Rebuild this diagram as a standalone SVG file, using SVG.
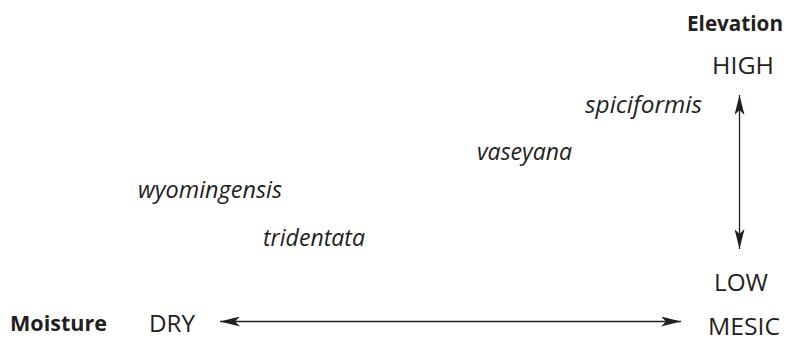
<svg xmlns="http://www.w3.org/2000/svg" width="788" height="341" viewBox="0 0 788 341">
  <style>
    text { font-family: "Open Sans", "Noto Sans", sans-serif; fill: #231f20; }
    .axis { font-size: 22px; font-weight: 700; }
    .level { font-size: 24px; }
    .taxon { font-size: 23px; font-style: italic; }
    .conn { stroke: #231f20; stroke-width: 1.3; fill: none; }
  </style>
  <defs>
    <marker id="head" viewBox="0 0 20 10" refX="20" refY="5" markerWidth="20" markerHeight="10" markerUnits="userSpaceOnUse" orient="auto-start-reverse">
      <path d="M0,0 L20,5 L0,10 L5,5 Z" fill="#231f20"/>
    </marker>
  </defs>
  <rect width="788" height="341" fill="#ffffff"/>

  <g id="connectors">
    <line id="elevation-axis" class="conn" x1="739.5" y1="95" x2="739.5" y2="249" marker-start="url(#head)" marker-end="url(#head)"/>
    <line id="moisture-axis" class="conn" x1="220" y1="321.5" x2="681" y2="321.5" marker-start="url(#head)" marker-end="url(#head)"/>
  </g>

  <g id="elevation-label"><text class="axis" x="687" y="31" textLength="96" lengthAdjust="spacingAndGlyphs">Elevation</text></g>
  <g id="high"><text class="level" x="712" y="74" textLength="62" lengthAdjust="spacingAndGlyphs">HIGH</text></g>
  <g id="low"><text class="level" x="714" y="291" textLength="54" lengthAdjust="spacingAndGlyphs">LOW</text></g>
  <g id="moisture-label"><text class="axis" x="10" y="331" textLength="97" lengthAdjust="spacingAndGlyphs">Moisture</text></g>
  <g id="dry"><text class="level" x="149" y="332" textLength="46" lengthAdjust="spacingAndGlyphs">DRY</text></g>
  <g id="mesic"><text class="level" x="708" y="335" font-size="23" textLength="72" lengthAdjust="spacingAndGlyphs">MESIC</text></g>

  <g id="spiciformis"><text class="taxon" x="585" y="113" textLength="117" lengthAdjust="spacingAndGlyphs">spiciformis</text></g>
  <g id="vaseyana"><text class="taxon" x="477" y="160" textLength="95" lengthAdjust="spacingAndGlyphs">vaseyana</text></g>
  <g id="wyomingensis"><text class="taxon" x="138" y="198" textLength="144" lengthAdjust="spacingAndGlyphs">wyomingensis</text></g>
  <g id="tridentata"><text class="taxon" x="263" y="246" textLength="102" lengthAdjust="spacingAndGlyphs">tridentata</text></g>
</svg>
